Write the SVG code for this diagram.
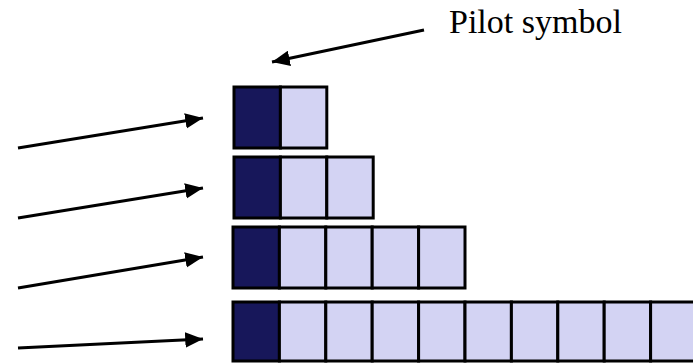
<svg xmlns="http://www.w3.org/2000/svg" width="693" height="363" viewBox="0 0 693 363">
<style>
.p{fill:#17175a;stroke:#000;stroke-width:3}
.d{fill:#d3d3f3;stroke:#000;stroke-width:3}
.a{stroke:#000;stroke-width:3;fill:none;marker-end:url(#ah)}
</style>
<defs>
<marker id="ah" markerUnits="userSpaceOnUse" markerWidth="20" markerHeight="16" refX="16" refY="7" orient="auto" viewBox="0 0 18 14">
<path d="M0,0 L16,7 L0,14 Z" fill="#000"/>
</marker>
</defs>
<rect width="693" height="363" fill="#fff"/>
<g id="connectors">
<line class="a" x1="424" y1="30" x2="272" y2="62"/>
<line class="a" x1="18" y1="148" x2="203" y2="118"/>
<line class="a" x1="18" y1="218" x2="203" y2="188"/>
<line class="a" x1="18" y1="288" x2="203" y2="257"/>
<line class="a" x1="18" y1="348" x2="203" y2="339"/>
</g>
<g id="label"><text x="449" y="33" font-family="'Liberation Serif', 'Times New Roman', serif" font-size="34" fill="#000">Pilot symbol</text></g>
<g id="row1">
<rect class="p" x="234" y="87" width="46.4" height="61"/>
<rect class="d" x="280.4" y="87" width="46.4" height="61"/>
</g>
<g id="row2">
<rect class="p" x="234" y="157" width="46.4" height="61"/>
<rect class="d" x="280.4" y="157" width="46.4" height="61"/>
<rect class="d" x="326.8" y="157" width="46.4" height="61"/>
</g>
<g id="row3">
<rect class="p" x="233" y="227" width="46.4" height="61"/>
<rect class="d" x="279.4" y="227" width="46.4" height="61"/>
<rect class="d" x="325.8" y="227" width="46.4" height="61"/>
<rect class="d" x="372.2" y="227" width="46.4" height="61"/>
<rect class="d" x="418.6" y="227" width="46.4" height="61"/>
</g>
<g id="row4">
<rect class="p" x="233" y="302" width="46.4" height="59"/>
<rect class="d" x="279.4" y="302" width="46.4" height="59"/>
<rect class="d" x="325.8" y="302" width="46.4" height="59"/>
<rect class="d" x="372.2" y="302" width="46.4" height="59"/>
<rect class="d" x="418.6" y="302" width="46.4" height="59"/>
<rect class="d" x="465" y="302" width="46.4" height="59"/>
<rect class="d" x="511.4" y="302" width="46.4" height="59"/>
<rect class="d" x="557.8" y="302" width="46.4" height="59"/>
<rect class="d" x="604.2" y="302" width="46.4" height="59"/>
<rect class="d" x="650.6" y="302" width="46.4" height="59"/>
</g>
</svg>
